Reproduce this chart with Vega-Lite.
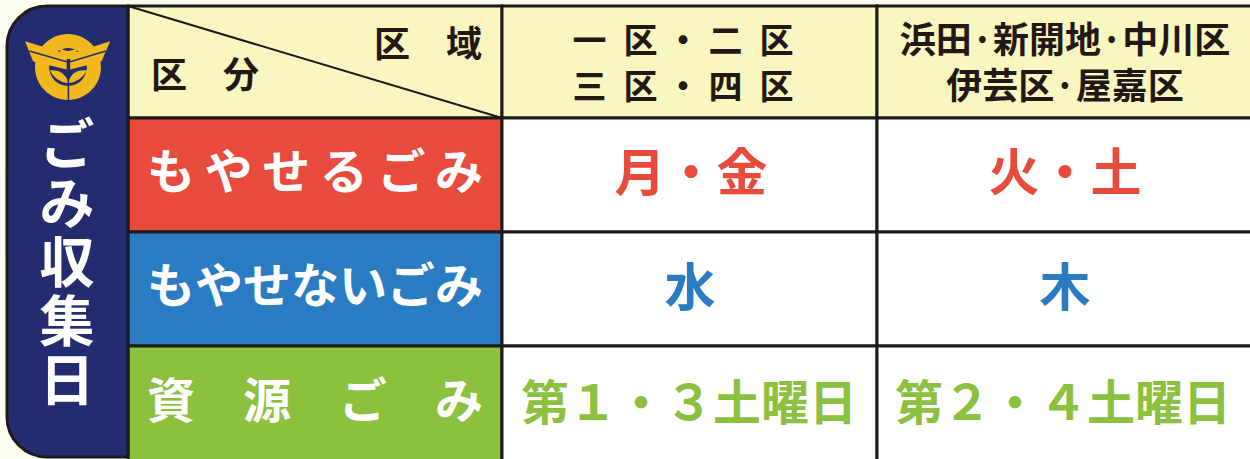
{
  "$schema": "https://vega.github.io/schema/vega-lite/v6.json",
  "width": 1250,
  "height": 459,
  "autosize": {"type": "none"},
  "padding": 0,
  "background": "#fdfcf0",
  "config": {"view": {"stroke": null}},
  "datasets": {
    "side": [{"x0": 7, "x1": 128, "y0": 6, "y1": 457}],
    "cells": [
      {"x0": 128, "x1": 502, "y0": 6, "y1": 118, "kind": "header"},
      {"x0": 502, "x1": 877, "y0": 6, "y1": 118, "kind": "header"},
      {"x0": 877, "x1": 1254, "y0": 6, "y1": 118, "kind": "header"},
      {"x0": 128, "x1": 502, "y0": 118, "y1": 232, "kind": "burnable"},
      {"x0": 502, "x1": 877, "y0": 118, "y1": 232, "kind": "value"},
      {"x0": 877, "x1": 1254, "y0": 118, "y1": 232, "kind": "value"},
      {"x0": 128, "x1": 502, "y0": 232, "y1": 346, "kind": "nonburnable"},
      {"x0": 502, "x1": 877, "y0": 232, "y1": 346, "kind": "value"},
      {"x0": 877, "x1": 1254, "y0": 232, "y1": 346, "kind": "value"},
      {"x0": 128, "x1": 502, "y0": 346, "y1": 462, "kind": "resource"},
      {"x0": 502, "x1": 877, "y0": 346, "y1": 462, "kind": "value"},
      {"x0": 877, "x1": 1254, "y0": 346, "y1": 462, "kind": "value"}
    ],
    "diag": [{"x0": 128, "y0": 6, "x1": 502, "y1": 118}],
    "emblem": [{"x": 68, "y": 67, "name": "町章"}],
    "title": [{"x": 67, "y": 147, "t": "ご\nみ\n収\n集\n日"}],
    "corner": [
      {"t": "区　域", "x": 428, "y": 46},
      {"t": "区　分", "x": 205, "y": 77}
    ],
    "districtsA": [
      {"t": "一\u2002区\u2005・\u2005二\u2002区", "x": 683, "y": 43},
      {"t": "三\u2002区\u2005・\u2005四\u2002区", "x": 683, "y": 89}
    ],
    "districtsB": [
      {"t": "浜田·新開地·中川区", "x": 1065, "y": 42},
      {"t": "伊芸区·屋嘉区", "x": 1065, "y": 88}
    ],
    "categories": [
      {"t": "も\u2009や\u2009せ\u2009る\u2009ご\u2009み", "x": 315, "y": 175},
      {"t": "もやせないごみ", "x": 315, "y": 289},
      {"t": "資　源　ご　み", "x": 315, "y": 404}
    ],
    "weekly": [
      {"t": "月・金", "x": 691, "y": 176, "kind": "burnable"},
      {"t": "火・土", "x": 1065, "y": 176, "kind": "burnable"},
      {"t": "水", "x": 690, "y": 291, "kind": "nonburnable"},
      {"t": "木", "x": 1065, "y": 291, "kind": "nonburnable"}
    ],
    "monthly": [
      {"t": "第１・３土曜日", "x": 689, "y": 406, "kind": "resource"},
      {"t": "第２・４土曜日", "x": 1063, "y": 406, "kind": "resource"}
    ]
  },
  "layer": [
    {
      "data": {"name": "cells"},
      "mark": {"type": "rect", "stroke": "#1c1a1a", "strokeWidth": 3},
      "encoding": {
        "x": {"field": "x0", "type": "quantitative", "scale": {"domain": [0, 1250], "range": [0, 1250], "zero": false, "nice": false}, "axis": null},
        "x2": {"field": "x1"},
        "y": {"field": "y0", "type": "quantitative", "scale": {"domain": [0, 459], "range": [0, 459], "zero": false, "nice": false}, "axis": null},
        "y2": {"field": "y1"},
        "color": {"field": "kind", "type": "nominal", "legend": null,
          "scale": {"domain": ["header", "burnable", "nonburnable", "resource", "value"],
                    "range": ["#f9f6bf", "#e84b3c", "#2a7cc2", "#8cc13f", "#ffffff"]}}
      }
    },
    {
      "data": {"name": "side"},
      "mark": {"type": "rect", "fill": "#222c6e", "stroke": "#1c1a1a", "strokeWidth": 3, "cornerRadiusTopLeft": 40, "cornerRadiusBottomLeft": 40},
      "encoding": {
        "x": {"field": "x0", "type": "quantitative", "scale": {"domain": [0, 1250], "range": [0, 1250], "zero": false, "nice": false}, "axis": null},
        "x2": {"field": "x1"},
        "y": {"field": "y0", "type": "quantitative", "scale": {"domain": [0, 459], "range": [0, 459], "zero": false, "nice": false}, "axis": null},
        "y2": {"field": "y1"}
      }
    },
    {
      "data": {"name": "diag"},
      "mark": {"type": "rule", "stroke": "#1c1a1a", "strokeWidth": 2},
      "encoding": {
        "x": {"field": "x0", "type": "quantitative", "scale": {"domain": [0, 1250], "range": [0, 1250], "zero": false, "nice": false}, "axis": null},
        "x2": {"field": "x1"},
        "y": {"field": "y0", "type": "quantitative", "scale": {"domain": [0, 459], "range": [0, 459], "zero": false, "nice": false}, "axis": null},
        "y2": {"field": "y1"}
      }
    },
    {
      "data": {"name": "emblem"},
      "mark": {"type": "point", "filled": true, "fill": "#f1b91d", "opacity": 1, "strokeWidth": 0, "size": 7396,
        "shape": "M0,-0.767A0.767,0.767 0 1,1 0,0.767A0.767,0.767 0 1,1 0,-0.767Z M0,-0.44A0.44,0.44 0 1,0 0,0.44A0.44,0.44 0 1,0 0,-0.44Z M-1,-0.6L-0.03,-0.3L-0.03,0.06L-0.81,-0.13Z M0.98,-0.6L0.78,-0.13L0.05,0.06L0.05,-0.3Z M-0.2,-0.45Q0,-0.3 0.22,-0.45Q0.18,-0.2 0.01,-0.18Q-0.16,-0.2 -0.2,-0.45Z M-0.42,0.08Q-0.1,0.04 0.01,0.35Q0.1,0.04 0.44,0.08Q0.3,0.34 0.01,0.38Q-0.3,0.34 -0.42,0.08Z"},
      "encoding": {
        "x": {"field": "x", "type": "quantitative", "scale": {"domain": [0, 1250], "range": [0, 1250], "zero": false, "nice": false}, "axis": null},
        "y": {"field": "y", "type": "quantitative", "scale": {"domain": [0, 459], "range": [0, 459], "zero": false, "nice": false}, "axis": null}
      }
    },
    {
      "data": {"name": "emblem"},
      "mark": {"type": "point", "filled": false, "stroke": "#222c6e", "opacity": 1, "strokeWidth": 1.6, "size": 7396,
        "shape": "M-0.9,-0.37L-0.03,-0.12 M0.88,-0.37L0.05,-0.12 M0.01,-0.18L0.01,0.8"},
      "encoding": {
        "x": {"field": "x", "type": "quantitative", "scale": {"domain": [0, 1250], "range": [0, 1250], "zero": false, "nice": false}, "axis": null},
        "y": {"field": "y", "type": "quantitative", "scale": {"domain": [0, 459], "range": [0, 459], "zero": false, "nice": false}, "axis": null}
      }
    },
    {
      "data": {"name": "title"},
      "mark": {"type": "text", "font": "Noto Sans CJK JP", "fontWeight": "bold", "fontSize": 55, "lineHeight": 59, "lineBreak": "\n", "color": "#ffffff", "align": "center", "baseline": "middle"},
      "encoding": {
        "x": {"field": "x", "type": "quantitative", "scale": {"domain": [0, 1250], "range": [0, 1250], "zero": false, "nice": false}, "axis": null},
        "y": {"field": "y", "type": "quantitative", "scale": {"domain": [0, 459], "range": [0, 459], "zero": false, "nice": false}, "axis": null},
        "text": {"field": "t"}
      }
    },
    {
      "data": {"name": "corner"},
      "mark": {"type": "text", "font": "Noto Sans CJK JP", "fontWeight": "bold", "fontSize": 36, "color": "#231815", "align": "center", "baseline": "middle"},
      "encoding": {
        "x": {"field": "x", "type": "quantitative", "scale": {"domain": [0, 1250], "range": [0, 1250], "zero": false, "nice": false}, "axis": null},
        "y": {"field": "y", "type": "quantitative", "scale": {"domain": [0, 459], "range": [0, 459], "zero": false, "nice": false}, "axis": null},
        "text": {"field": "t"}
      }
    },
    {
      "data": {"name": "districtsA"},
      "mark": {"type": "text", "font": "Noto Sans CJK JP", "fontWeight": "bold", "fontSize": 34, "color": "#231815", "align": "center", "baseline": "middle"},
      "encoding": {
        "x": {"field": "x", "type": "quantitative", "scale": {"domain": [0, 1250], "range": [0, 1250], "zero": false, "nice": false}, "axis": null},
        "y": {"field": "y", "type": "quantitative", "scale": {"domain": [0, 459], "range": [0, 459], "zero": false, "nice": false}, "axis": null},
        "text": {"field": "t"}
      }
    },
    {
      "data": {"name": "districtsB"},
      "mark": {"type": "text", "font": "Noto Sans CJK JP", "fontWeight": "bold", "fontSize": 36, "color": "#231815", "align": "center", "baseline": "middle"},
      "encoding": {
        "x": {"field": "x", "type": "quantitative", "scale": {"domain": [0, 1250], "range": [0, 1250], "zero": false, "nice": false}, "axis": null},
        "y": {"field": "y", "type": "quantitative", "scale": {"domain": [0, 459], "range": [0, 459], "zero": false, "nice": false}, "axis": null},
        "text": {"field": "t"}
      }
    },
    {
      "data": {"name": "categories"},
      "mark": {"type": "text", "font": "Noto Sans CJK JP", "fontWeight": "bold", "fontSize": 48, "color": "#ffffff", "align": "center", "baseline": "middle"},
      "encoding": {
        "x": {"field": "x", "type": "quantitative", "scale": {"domain": [0, 1250], "range": [0, 1250], "zero": false, "nice": false}, "axis": null},
        "y": {"field": "y", "type": "quantitative", "scale": {"domain": [0, 459], "range": [0, 459], "zero": false, "nice": false}, "axis": null},
        "text": {"field": "t"}
      }
    },
    {
      "data": {"name": "weekly"},
      "mark": {"type": "text", "font": "Noto Sans CJK JP", "fontWeight": "bold", "fontSize": 51, "align": "center", "baseline": "middle"},
      "encoding": {
        "x": {"field": "x", "type": "quantitative", "scale": {"domain": [0, 1250], "range": [0, 1250], "zero": false, "nice": false}, "axis": null},
        "y": {"field": "y", "type": "quantitative", "scale": {"domain": [0, 459], "range": [0, 459], "zero": false, "nice": false}, "axis": null},
        "text": {"field": "t"},
        "color": {"field": "kind", "type": "nominal", "legend": null,
          "scale": {"domain": ["burnable", "nonburnable", "resource"], "range": ["#e3574a", "#3a7fc0", "#8bbd40"]}}
      }
    },
    {
      "data": {"name": "monthly"},
      "mark": {"type": "text", "font": "Noto Sans CJK JP", "fontWeight": "bold", "fontSize": 48, "align": "center", "baseline": "middle"},
      "encoding": {
        "x": {"field": "x", "type": "quantitative", "scale": {"domain": [0, 1250], "range": [0, 1250], "zero": false, "nice": false}, "axis": null},
        "y": {"field": "y", "type": "quantitative", "scale": {"domain": [0, 459], "range": [0, 459], "zero": false, "nice": false}, "axis": null},
        "text": {"field": "t"},
        "color": {"field": "kind", "type": "nominal", "legend": null,
          "scale": {"domain": ["burnable", "nonburnable", "resource"], "range": ["#e3574a", "#3a7fc0", "#8bbd40"]}}
      }
    }
  ]
}
